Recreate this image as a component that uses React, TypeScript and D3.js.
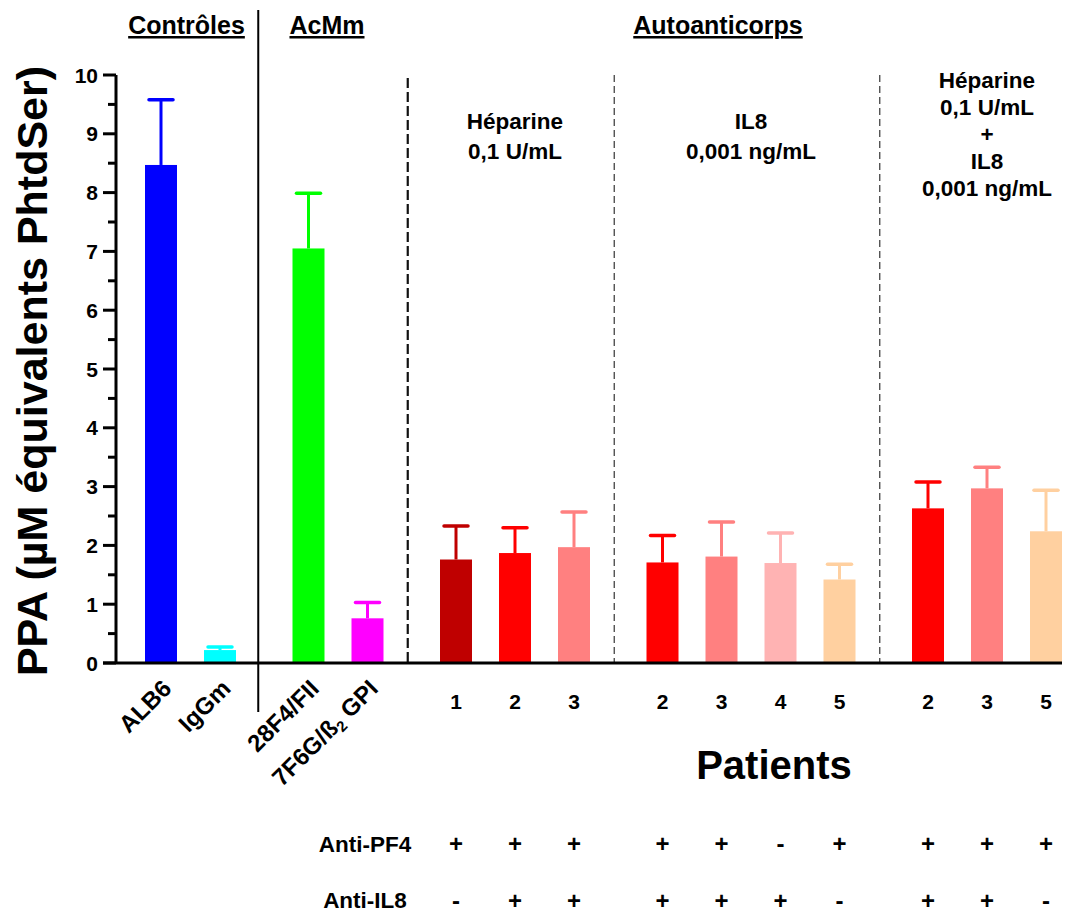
import React from "react";
import * as d3 from "d3";

const categories = ["ALB6", "IgGm", "28F4/FII", "7F6G/ß₂ GPI", "1", "2", "3", "2", "3", "4", "5", "2", "3", "5"];
const barGroup = [0, 0, 1, 1, 2, 2, 2, 3, 3, 3, 3, 4, 4, 4];
const values = [8.47, 0.22, 7.05, 0.76, 1.76, 1.87, 1.97, 1.71, 1.81, 1.7, 1.42, 2.63, 2.97, 2.24];
const errors = [1.11, 0.05, 0.94, 0.27, 0.57, 0.43, 0.6, 0.46, 0.59, 0.51, 0.26, 0.45, 0.36, 0.7];
const colors = ["#0000FF", "#00FFFF", "#00FF00", "#FF00FF", "#BF0000", "#FF0000", "#FF8080", "#FF0000", "#FF8080", "#FFB3B3", "#FFD0A0", "#FF0000", "#FF8080", "#FFD0A0"];
const antiPF4 = ["", "", "", "", "+", "+", "+", "+", "+", "-", "+", "+", "+", "+"];
const antiIL8 = ["", "", "", "", "-", "+", "+", "+", "+", "+", "-", "+", "+", "-"];
const yTicks = [0, 1, 2, 3, 4, 5, 6, 7, 8, 9, 10];
const yMinor = [0.5, 1.5, 2.5, 3.5, 4.5, 5.5, 6.5, 7.5, 8.5, 9.5];
const groupTitles = ["Contrôles", "AcMm", "Autoanticorps"];
const panelLabels = [["Héparine", "0,1 U/mL"], ["IL8", "0,001 ng/mL"], ["Héparine", "0,1 U/mL", "+", "IL8", "0,001 ng/mL"]];

const FONT = "'Liberation Sans', Arial, Helvetica, sans-serif";

export default function App() {
  const W = 1066, H = 916;
  const slots = categories.map((_, i) => i + 0.5 * barGroup[i]);
  const x = d3.scaleLinear().domain([0, 15]).range([161, 1046]);
  const y = d3.scaleLinear().domain([0, 10]).range([663, 75]);
  const bw = 32;
  const capW = 24;
  const y0 = y(0);

  const seps: number[] = [];
  for (let g = 0; g < 4; g++) {
    const last = d3.max(slots.filter((_, i) => barGroup[i] === g)) as number;
    const first = d3.min(slots.filter((_, i) => barGroup[i] === g + 1)) as number;
    seps.push(x((last + first) / 2) - 4);
  }
  const groupCenter = (g: number) => {
    const s = slots.filter((_, i) => barGroup[i] === g);
    return x(((d3.min(s) as number) + (d3.max(s) as number)) / 2);
  };

  const titleX = [groupCenter(0) - 4, groupCenter(1) - 11, 718];
  const panelX = [groupCenter(2), groupCenter(3), groupCenter(4)];

  return (
    <svg width={W} height={H} style={{ position: "absolute", left: 0, top: 0, background: "#fff" }} fontFamily={FONT} fontWeight="bold">
      <rect x={0} y={0} width={W} height={H} fill="#fff" />
      <text transform={`translate(47,${371}) rotate(-90)`} textAnchor="middle" fontSize={43}>
        PPA (µM équivalents PhtdSer)
      </text>
      <line x1={116} x2={116} y1={y(10)} y2={y0} stroke="#000" strokeWidth={3} />
      {yTicks.map((t) => (
        <g key={"t" + t}>
          <line x1={103} x2={116} y1={y(t)} y2={y(t)} stroke="#000" strokeWidth={3} />
          <text x={98} y={y(t) + 7.5} textAnchor="end" fontSize={21}>{t}</text>
        </g>
      ))}
      {yMinor.map((t) => (
        <line key={"m" + t} x1={108} x2={116} y1={y(t)} y2={y(t)} stroke="#000" strokeWidth={3} />
      ))}
      <line x1={seps[0] - 2} x2={seps[0] - 2} y1={10} y2={712} stroke="#000" strokeWidth={2} />
      <line x1={seps[1]} x2={seps[1]} y1={78} y2={y0} stroke="#111" strokeWidth={2.2} strokeDasharray="10,4" />
      <line x1={seps[2]} x2={seps[2]} y1={75} y2={y0} stroke="#444" strokeWidth={1.3} strokeDasharray="7,4" />
      <line x1={seps[3]} x2={seps[3]} y1={75} y2={y0} stroke="#444" strokeWidth={1.3} strokeDasharray="7,4" />
      {values.map((v, i) => {
        const cx = x(slots[i]);
        const top = y(v + errors[i]);
        return (
          <g key={"b" + i}>
            <line x1={cx} x2={cx} y1={y(v)} y2={top} stroke={colors[i]} strokeWidth={3} />
            <line x1={cx - capW / 2} x2={cx + capW / 2} y1={top} y2={top} stroke={colors[i]} strokeWidth={3.5} strokeLinecap="round" />
            <rect x={cx - bw / 2} y={y(v)} width={bw} height={y0 - y(v)} fill={colors[i]} />
          </g>
        );
      })}
      <line x1={103} x2={1062} y1={y0} y2={y0} stroke="#000" strokeWidth={3} />
      {categories.map((c, i) => {
        const cx = x(slots[i]);
        if (i < 4) {
          const parts = c.split("₂");
          return (
            <text key={"xl" + i} transform={`translate(${cx + 12},${690}) rotate(-45)`} textAnchor="end" fontSize={24}>
              {parts.length > 1 ? (
                <>
                  {parts[0]}
                  <tspan fontSize={15} dy={4}>2</tspan>
                  <tspan dy={-4}>{parts[1]}</tspan>
                </>
              ) : c}
            </text>
          );
        }
        return (
          <text key={"xl" + i} x={cx} y={709} textAnchor="middle" fontSize={21}>{c}</text>
        );
      })}
      {groupTitles.map((t, i) => (
        <text key={"gt" + i} x={titleX[i]} y={34} textAnchor="middle" fontSize={25} textDecoration="underline">{t}</text>
      ))}
      {panelLabels.map((lines, p) => {
        const startY = p < 2 ? 129 : 88;
        const step = p < 2 ? 30 : 27;
        return lines.map((l, k) => (
          <text key={"pl" + p + k} x={panelX[p]} y={startY + k * step} textAnchor="middle" fontSize={22.5}>{l}</text>
        ));
      })}
      <text x={774} y={779} textAnchor="middle" fontSize={40}>Patients</text>
      <text x={365} y={852} textAnchor="middle" fontSize={22.5}>Anti-PF4</text>
      <text x={365} y={908} textAnchor="middle" fontSize={22.5}>Anti-IL8</text>
      {antiPF4.map((s, i) => s ? (
        <text key={"pf" + i} x={x(slots[i])} y={852} textAnchor="middle" fontSize={24}>{s}</text>
      ) : null)}
      {antiIL8.map((s, i) => s ? (
        <text key={"il" + i} x={x(slots[i])} y={909} textAnchor="middle" fontSize={24}>{s}</text>
      ) : null)}
    </svg>
  );
}
